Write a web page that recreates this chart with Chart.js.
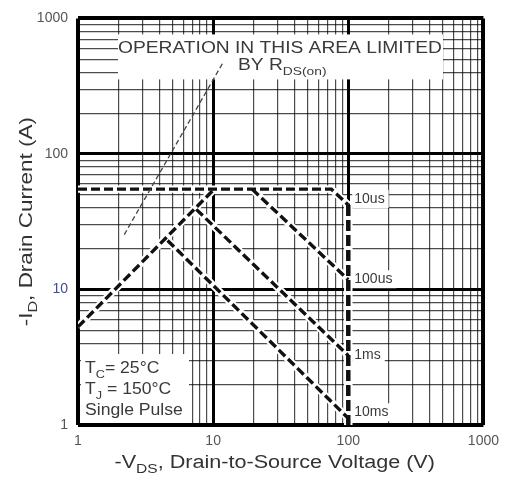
<!DOCTYPE html>
<html>
<head>
<meta charset="utf-8">
<title>Safe Operating Area</title>
<script src="https://cdn.jsdelivr.net/npm/chart.js@4.4.1/dist/chart.umd.min.js"></script>
<style>
  html, body { margin: 0; padding: 0; background: #fff; }
  #wrap { position: relative; width: 507px; height: 479px; }
</style>
</head>
<body>
<div id="wrap"><canvas id="soaChart"></canvas></div>
<script>
// --- data (log-log, volts vs amps) ---
const xDecades = [1, 10, 100, 1000];
const yDecades = [1, 10, 100, 1000];

// thin RDS(on) limit line
const rdsVolts = [2.2, 12];
const rdsAmps = [25.4, 484];

// rising limit shared by the pulse curves
const riseVolts = [1, 10];
const riseAmps = [5.3, 54];

// pulse curves
const us10Volts = [1, 75, 100];
const us10Amps = [55, 55, 42];
const us10EdgeVolts = [100, 100];
const us10EdgeAmps = [42, 1];
const us100Volts = [19.4, 100];
const us100Amps = [55, 11.8];
const ms1Volts = [7.5, 100];
const ms1Amps = [39, 3.25];
const ms10Volts = [4.6, 100];
const ms10Amps = [23, 1.12];

const pulseLabels = ["10us", "100us", "1ms", "10ms"];
const pulseLabelAmps = [46.5, 11.9, 3.25, 1.24];

const FONT = '"Liberation Sans", Arial, sans-serif';
const TEXT = "#3a3a3a";

// 1..9 per decade for the log grid
const gridVals = [];
xDecades.slice(0, -1).forEach(d => {
  for (let k = 1; k < 10; k++) gridVals.push(k * d);
});
gridVals.push(xDecades[xDecades.length - 1]);

function pts(xs, ys) {
  return xs.map((x, i) => ({ x: x, y: ys[i] }));
}

// each dashed curve gets a white halo underneath, like the scan
const curves = [
  { v: riseVolts, a: riseAmps, w: 3.4, dash: [9, 4] },
  { v: us10Volts, a: us10Amps, w: 3.4, dash: [9, 4] },
  { v: us10EdgeVolts, a: us10EdgeAmps, w: 4.5, dash: [11, 4] },
  { v: us100Volts, a: us100Amps, w: 3.4, dash: [9, 4] },
  { v: ms1Volts, a: ms1Amps, w: 3.4, dash: [9, 4] },
  { v: ms10Volts, a: ms10Amps, w: 3.4, dash: [9, 4] }
];

const datasets = [];
curves.forEach(c => {
  datasets.push({
    data: pts(c.v, c.a), borderColor: "#fff", borderWidth: c.w + 4,
    pointRadius: 0, fill: false, order: 5
  });
  datasets.push({
    data: pts(c.v, c.a), borderColor: "#111", borderWidth: c.w,
    borderDash: c.dash, pointRadius: 0, fill: false, order: 1
  });
});
datasets.push({
  data: pts(rdsVolts, rdsAmps), borderColor: "#444", borderWidth: 1.3,
  borderDash: [5, 3], pointRadius: 0, fill: false, order: 0
});

function drawRich(ctx, parts, x, y, size, sx, align) {
  ctx.save();
  ctx.translate(x, y);
  ctx.scale(sx, 1);
  ctx.textAlign = "left";
  ctx.textBaseline = "alphabetic";
  let w = 0;
  parts.forEach(p => {
    ctx.font = (p.sub ? size * 0.72 : size) + "px " + FONT;
    w += ctx.measureText(p.t).width;
  });
  let cx = align === "center" ? -w / 2 : 0;
  parts.forEach(p => {
    ctx.font = (p.sub ? size * 0.72 : size) + "px " + FONT;
    ctx.fillText(p.t, cx, p.sub ? size * 0.3 : 0);
    cx += ctx.measureText(p.t).width;
  });
  ctx.restore();
}

const annotations = {
  id: "annotations",
  beforeDatasetsDraw(chart) {
    const ctx = chart.ctx;
    const a = chart.chartArea;
    const xs = chart.scales.x;
    const ys = chart.scales.y;
    ctx.save();
    ctx.fillStyle = "#fff";
    // boxes that blank the grid behind the notes
    ctx.fillRect(118, a.top + 16, 325, 45);
    ctx.fillRect(a.left + 3, a.bottom - 71, 108, 69);
    ctx.fillStyle = TEXT;
    drawRich(ctx, [{ t: "OPERATION IN THIS AREA LIMITED" }], 280, a.top + 35, 16, 1.2, "center");
    drawRich(ctx, [{ t: "BY R" }, { t: "DS(on)", sub: true }], 238, a.top + 52, 16, 1.2, "left");

    drawRich(ctx, [{ t: "T" }, { t: "C", sub: true }, { t: "= 25°C" }], a.left + 7, a.bottom - 52, 16, 1.1, "left");
    drawRich(ctx, [{ t: "T" }, { t: "J", sub: true }, { t: " = 150°C" }], a.left + 7, a.bottom - 31, 16, 1.1, "left");
    drawRich(ctx, [{ t: "Single Pulse" }], a.left + 7, a.bottom - 10, 16, 1.1, "left");

    // pulse width labels next to the 100 V edge
    ctx.font = "14px " + FONT;
    ctx.textBaseline = "middle";
    ctx.textAlign = "left";
    const lx = xs.getPixelForValue(100) + 6;
    pulseLabels.forEach((t, i) => {
      const ly = ys.getPixelForValue(pulseLabelAmps[i]);
      const w = ctx.measureText(t).width;
      ctx.fillStyle = "#fff";
      ctx.fillRect(lx - 2, ly - 9, w + 6, 18);
      ctx.fillStyle = TEXT;
      ctx.fillText(t, lx, ly);
    });
    ctx.restore();
  },
  afterDraw(chart) {
    const ctx = chart.ctx;
    const a = chart.chartArea;
    ctx.save();
    ctx.fillStyle = "#333";
    drawRich(ctx, [{ t: "-V" }, { t: "DS", sub: true }, { t: ", Drain-to-Source Voltage (V)" }],
      (a.left + a.right) / 2 - 6, 468, 18, 1.2, "center");
    ctx.translate(32, (a.top + a.bottom) / 2);
    ctx.rotate(-Math.PI / 2);
    drawRich(ctx, [{ t: "-I" }, { t: "D", sub: true }, { t: ", Drain Current (A)" }], 0, 0, 18, 1.25, "center");
    ctx.restore();
  }
};

function gridWidth(ctx) {
  const v = ctx.tick ? ctx.tick.value : 0;
  if (v === 1 || v === 1000) return 4;
  if (v === 10 || v === 100) return 3;
  return 1.2;
}
function gridColor(ctx) {
  const v = ctx.tick ? ctx.tick.value : 0;
  return xDecades.includes(v) ? "#000" : "rgba(0,0,0,0.7)";
}

new Chart(document.getElementById("soaChart"), {
  type: "line",
  data: { datasets: datasets },
  options: {
    responsive: true,
    maintainAspectRatio: false,
    animation: false,
    layout: { padding: { left: 0, right: 20, top: 15, bottom: 0 } },
    plugins: { legend: { display: false }, tooltip: { enabled: false } },
    scales: {
      x: {
        type: "logarithmic",
        min: 1,
        max: 1000,
        afterBuildTicks: s => { s.ticks = gridVals.map(v => ({ value: v })); },
        afterFit: s => { s.height = 54; },
        border: { display: false },
        grid: { color: gridColor, lineWidth: gridWidth, drawTicks: false },
        ticks: {
          autoSkip: false,
          maxRotation: 0,
          padding: 8,
          color: "#555",
          font: { family: FONT, size: 14 },
          callback: v => (xDecades.includes(v) ? String(v) : "")
        }
      },
      y: {
        type: "logarithmic",
        min: 1,
        max: 1000,
        afterBuildTicks: s => { s.ticks = gridVals.map(v => ({ value: v })); },
        afterFit: s => { s.width = 78; },
        border: { display: false },
        grid: { color: gridColor, lineWidth: gridWidth, drawTicks: false },
        ticks: {
          autoSkip: false,
          padding: 10,
          color: c => (c.tick && c.tick.value === 10 ? "#3c4c96" : "#555"),
          font: { family: FONT, size: 14 },
          callback: v => (yDecades.includes(v) ? String(v) : "")
        }
      }
    }
  },
  plugins: [annotations]
});
</script>
</body>
</html>
